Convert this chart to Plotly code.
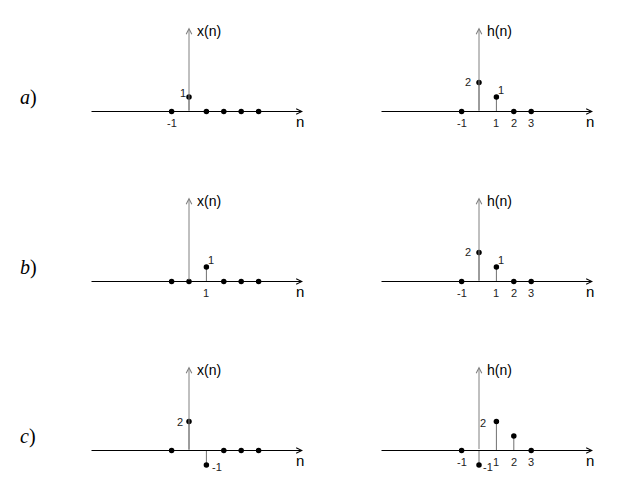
import plotly.graph_objects as go

# ---- data ----
n_x = [-1, 0, 1, 2, 3, 4]
n_h = [-1, 0, 1, 2, 3]

x_a = [0, 1, 0, 0, 0, 0]
h_a = [0, 2, 1, 0, 0]
x_b = [0, 0, 1, 0, 0, 0]
h_b = [0, 2, 1, 0, 0]
x_c = [0, 2, -1, 0, 0, 0]
h_c = [0, -1, 2, 1, 0]

row_labels = ["a", "b", "c"]
signal_names = ["x(n)", "h(n)"]

ticks_x_a = [-1]
ticks_h_a = [-1, 1, 2, 3]
ticks_x_b = [1]
ticks_h_b = [-1, 1, 2, 3]
ticks_x_c = []
ticks_h_c = [-1, 1, 2, 3]

# value-label offsets (pixels) per panel, keyed by n  (style only)
lbl_x_a = {0: (-6, 4)}
lbl_h_a = {0: (-11, 1), 1: (5, 7)}
lbl_x_b = {1: (5, 7)}
lbl_h_b = {0: (-11, 1), 1: (5, 7)}
lbl_x_c = {0: (-9, 0), 1: (11, -2)}
lbl_h_c = {1: (-13, -1), 0: (9, -2)}

panels = [
    (0, 0, n_x, x_a, ticks_x_a, lbl_x_a),
    (0, 1, n_h, h_a, ticks_h_a, lbl_h_a),
    (1, 0, n_x, x_b, ticks_x_b, lbl_x_b),
    (1, 1, n_h, h_b, ticks_h_b, lbl_h_b),
    (2, 0, n_x, x_c, ticks_x_c, lbl_x_c),
    (2, 1, n_h, h_c, ticks_h_c, lbl_h_c),
]

# ---- layout geometry (pixels) ----
W, H = 623, 497
ux, uy = 17.4, 14.5
col_px = [(90, 303, 189), (380, 593, 479)]   # left, right, origin
row_y0 = [111.5, 281.5, 450.5]
top_px, bot_px = 95, 30
yaxis_top = 5.8

fig = go.Figure()
layout = dict(width=W, height=H, margin=dict(l=0, r=0, t=0, b=0),
              plot_bgcolor="white", paper_bgcolor="white", showlegend=False)
annotations = []
label_font = dict(family="Liberation Sans, Arial, sans-serif", size=11, color="#222")

for i, (r, c, ns, vs, ticks, lbls) in enumerate(panels):
    k = i + 1
    xa = "x" if k == 1 else f"x{k}"
    ya = "y" if k == 1 else f"y{k}"
    xl, xr, xo = col_px[c]
    yo = row_y0[r]
    xmin, xmax = (xl - xo) / ux, (xr - xo) / ux
    layout[f"xaxis{'' if k == 1 else k}"] = dict(
        domain=[xl / W, xr / W], range=[xmin, xmax], visible=False, anchor=ya)
    layout[f"yaxis{'' if k == 1 else k}"] = dict(
        domain=[1 - (yo + bot_px) / H, 1 - (yo - top_px) / H],
        range=[-bot_px / uy, top_px / uy], visible=False, anchor=xa)

    # vertical axis (gray) with arrow
    annotations.append(dict(xref=xa, yref=ya, axref=xa, ayref=ya,
                            x=0, y=yaxis_top, ax=0, ay=0, text="",
                            showarrow=True, arrowhead=5, arrowsize=1.1,
                            arrowwidth=1, arrowcolor="#808080"))
    # stems
    sx, sy = [], []
    for n, v in zip(ns, vs):
        if v != 0:
            sx += [n, n, None]
            sy += [0, v, None]
    fig.add_trace(go.Scatter(x=sx, y=sy, mode="lines", xaxis=xa, yaxis=ya,
                             line=dict(color="#707070", width=1), hoverinfo="skip"))
    # horizontal axis (black) with arrow
    annotations.append(dict(xref=xa, yref=ya, axref=xa, ayref=ya,
                            x=xmax, y=0, ax=xmin, ay=0, text="",
                            showarrow=True, arrowhead=5, arrowsize=1.1,
                            arrowwidth=1, arrowcolor="black"))
    # points
    fig.add_trace(go.Scatter(x=ns, y=vs, mode="markers", xaxis=xa, yaxis=ya,
                             marker=dict(color="black", size=5.5), hoverinfo="skip"))
    # signal name
    annotations.append(dict(xref=xa, yref=ya, x=0, y=yaxis_top, text=signal_names[c],
                            showarrow=False, xanchor="left", yanchor="middle",
                            xshift=6, yshift=-4,
                            font=dict(family="Liberation Sans, Arial, sans-serif",
                                      size=14, color="black")))
    # 'n' axis label
    annotations.append(dict(xref=xa, yref=ya, x=xmax, y=0, text="n",
                            showarrow=False, xanchor="center", yanchor="middle",
                            xshift=-3, yshift=-10,
                            font=dict(family="Liberation Sans, Arial, sans-serif",
                                      size=15, color="black")))
    # tick labels
    for t in ticks:
        annotations.append(dict(xref=xa, yref=ya, x=t, y=0, text=str(t),
                                showarrow=False, xanchor="center", yanchor="middle",
                                yshift=-11, font=label_font))
    # value labels
    for n, v in zip(ns, vs):
        if n in lbls:
            dx, dy = lbls[n]
            annotations.append(dict(xref=xa, yref=ya, x=n, y=v, text=str(v),
                                    showarrow=False, xanchor="center", yanchor="middle",
                                    xshift=dx, yshift=dy, font=label_font))

# row labels
for r, lab in enumerate(row_labels):
    annotations.append(dict(xref="paper", yref="paper", x=28 / W,
                            y=1 - (row_y0[r] - 14.5) / H,
                            text=f"<i>{lab}</i>)", showarrow=False,
                            xanchor="center", yanchor="middle",
                            font=dict(family="Liberation Serif, serif", size=20,
                                      color="black")))

layout["annotations"] = annotations
fig.update_layout(**layout)
fig.write_html("out.html", config={"displayModeBar": False, "staticPlot": True},
               post_script="document.body.style.margin='0';document.body.style.overflow='hidden';")
